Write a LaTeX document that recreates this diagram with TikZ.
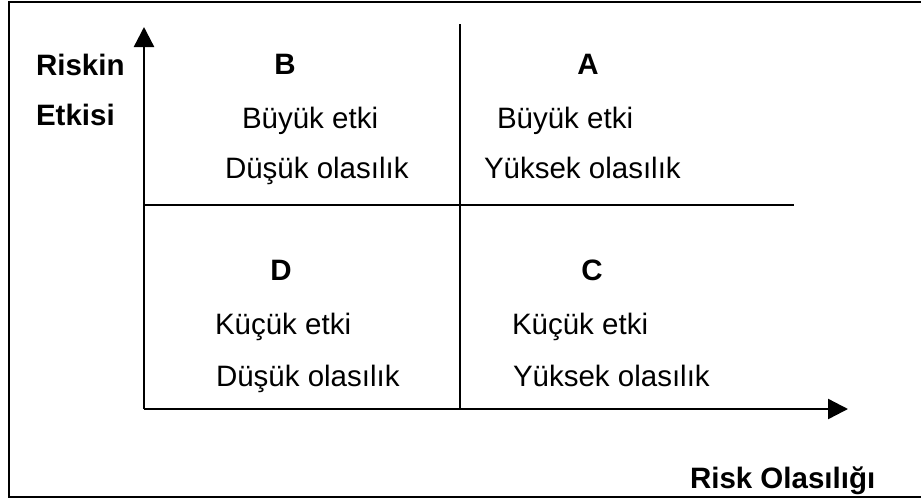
\documentclass[tikz,border=0pt]{standalone}
\usepackage{fontspec}
\setmainfont{Liberation Sans}
\usetikzlibrary{arrows.meta}

\tikzset{
  frameline/.style={line width=2pt, black},
  axisline/.style={line width=2.4pt, black, -{Triangle[length=20pt,width=20pt]}},
  divider/.style={line width=2.2pt, black},
  lbl/.style={inner sep=0pt, outer sep=0pt, anchor=base west,
              font=\fontsize{29.5}{35}\selectfont},
  quadletter/.style={inner sep=0pt, outer sep=0pt, anchor=base,
              font=\fontsize{29.5}{35}\selectfont\bfseries},
  axislbl/.style={lbl, font=\fontsize{29.5}{35}\selectfont\bfseries}
}

\begin{document}
\begin{tikzpicture}[x=1pt, y=-1pt]
  \useasboundingbox (0,0) rectangle (921,499);
  \clip (0,0) rectangle (921,499);

  % outer frame, open to the right
  \draw[frameline] (930,2) -- (8.5,2) -- (8.5,497) -- (930,497);

  % axes
  \coordinate (origin) at (144,409);
  \coordinate (ytip) at (144,27);
  \coordinate (xtip) at (848,409);
  \draw[axisline] (origin) -- (ytip);
  \draw[axisline] (origin) -- (xtip);

  % quadrant dividers
  \coordinate (vtop) at (460,24);
  \coordinate (vbot) at (460,409);
  \coordinate (hleft) at (144,205);
  \coordinate (hright) at (794,205);
  \draw[divider] (vtop) -- (vbot);
  \draw[divider] (hleft) -- (hright);

  % axis titles
  \node[axislbl] (ytitle1) at (36,75) {Riskin};
  \node[axislbl] (ytitle2) at (36,125) {Etkisi};
  \node[axislbl] (xtitle) at (690,488) {Risk Olasılığı};

  % quadrant B
  \node[quadletter] (qB) at (285,74) {B};
  \node[lbl] (qB1) at (242,128) {Büyük etki};
  \node[lbl] (qB2) at (225,178) {Düşük olasılık};

  % quadrant A
  \node[quadletter] (qA) at (588,74) {A};
  \node[lbl] (qA1) at (497,128) {Büyük etki};
  \node[lbl] (qA2) at (484,178) {Yüksek olasılık};

  % quadrant D
  \node[quadletter] (qD) at (281,280) {D};
  \node[lbl] (qD1) at (215,334) {Küçük etki};
  \node[lbl] (qD2) at (216,386) {Düşük olasılık};

  % quadrant C
  \node[quadletter] (qC) at (592,280) {C};
  \node[lbl] (qC1) at (512,334) {Küçük etki};
  \node[lbl] (qC2) at (513,386) {Yüksek olasılık};
\end{tikzpicture}
\end{document}
